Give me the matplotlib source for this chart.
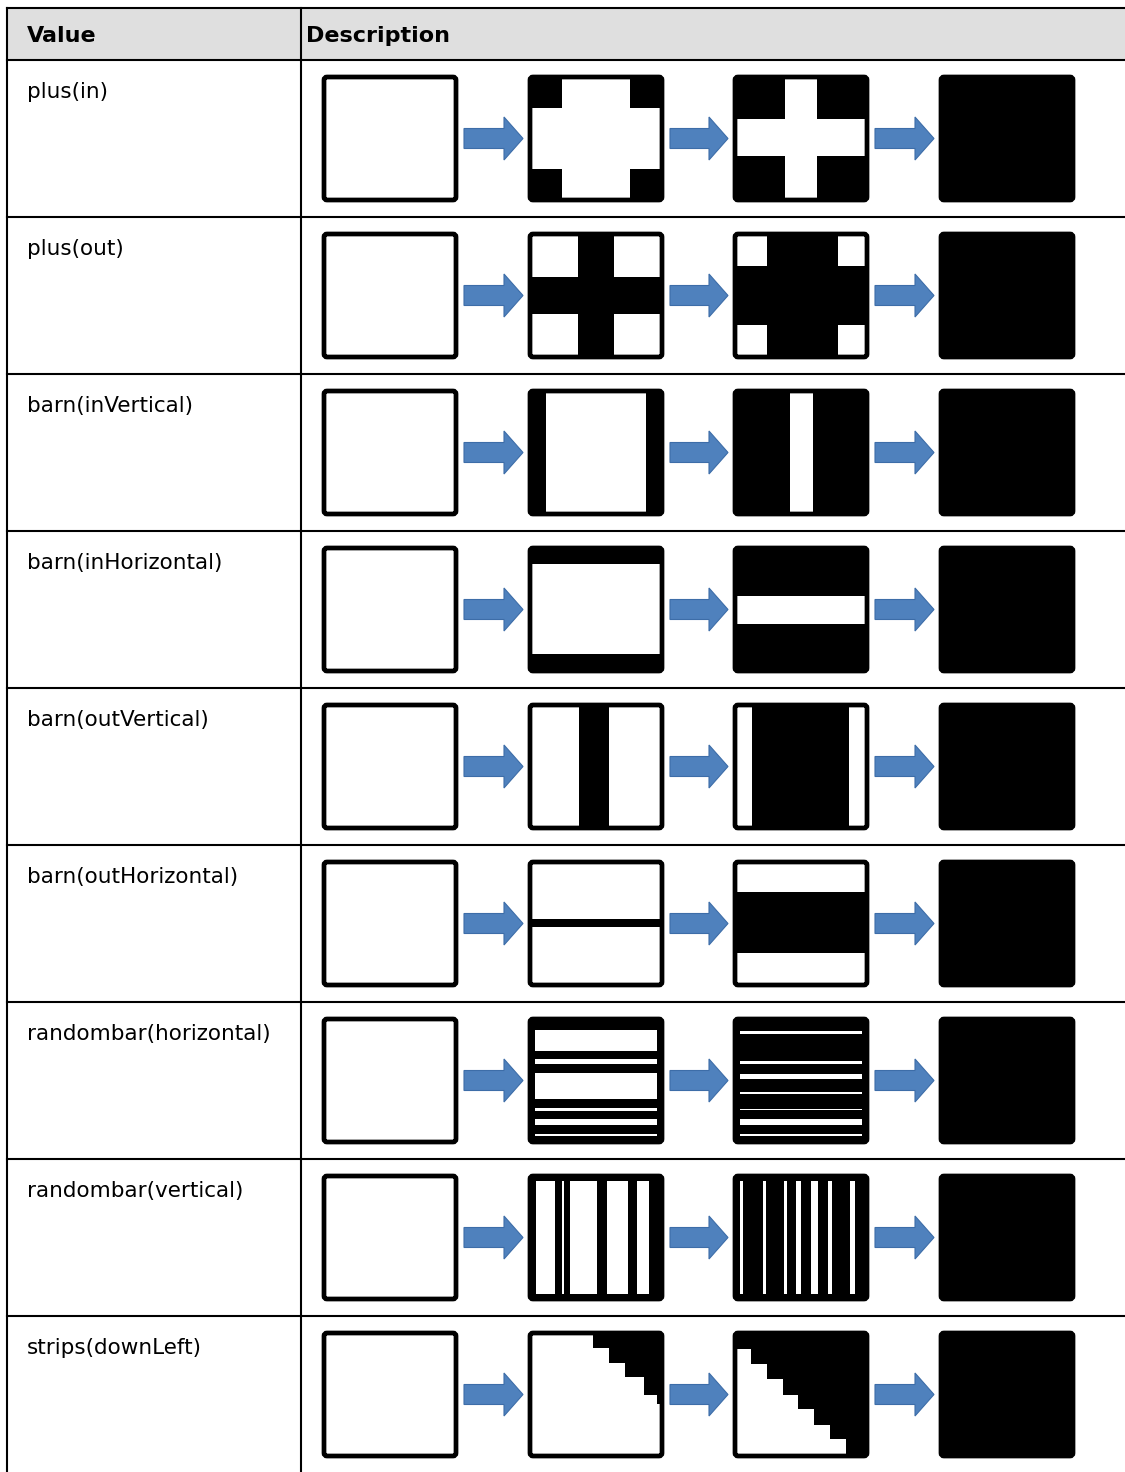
import matplotlib
matplotlib.use("Agg")
import matplotlib.pyplot as plt
from matplotlib.patches import Rectangle, FancyBboxPatch, Polygon

# table content
headers = ["Value", "Description"]
values = ["plus(in)", "plus(out)", "barn(inVertical)", "barn(inHorizontal)",
          "barn(outVertical)", "barn(outHorizontal)", "randombar(horizontal)",
          "randombar(vertical)", "strips(downLeft)"]

# intermediate frames of each transition: (background, inner rects)
# rects are (x0, x1, top0, top1) as fractions of the box, measured from top-left
plus_in = [("w", [(0, .24, 0, .25), (.76, 1, 0, .25), (0, .24, .75, 1), (.76, 1, .75, 1)]),
           ("k", [(.38, .62, 0, 1), (0, 1, .34, .64)])]
plus_out = [("w", [(.36, .64, 0, 1), (0, 1, .35, .65)]),
            ("k", [(0, .24, 0, .26), (.78, 1, 0, .26), (0, .24, .74, 1), (.78, 1, .74, 1)])]
barn_in_v = [("w", [(0, .12, 0, 1), (.88, 1, 0, 1)]),
             ("k", [(.42, .59, 0, 1)])]
barn_in_h = [("w", [(0, 1, 0, .13), (0, 1, .86, 1)]),
             ("k", [(0, 1, .39, .62)])]
barn_out_v = [("w", [(.37, .6, 0, 1)]),
              ("k", [(0, .13, 0, 1), (.86, 1, 0, 1)])]
barn_out_h = [("w", [(0, 1, .46, .53)]),
              ("k", [(0, 1, 0, .24), (0, 1, .74, 1)])]

rbh_2 = [(.086, .257), (.324, .365), (.438, .649), (.724, .751), (.816, .865), (.932, .951)]
rbh_3 = [(.095, .122), (.338, .365), (.446, .486), (.595, .608), (.728, .743), (.816, .865), (.932, .951)]
rbv_2 = [(.043, .188), (.241, .261), (.304, .507), (.58, .739), (.812, .899)]
rbv_3 = [(.038, .059), (.21, .233), (.368, .397), (.465, .5), (.574, .632), (.706, .738), (.872, .912)]
randbar_h = [("k", [(.04, .96, a, b) for a, b in rbh_2]),
             ("k", [(.04, .96, a, b) for a, b in rbh_3])]
randbar_v = [("k", [(a, b, .04, .96) for a, b in rbv_2]),
             ("k", [(a, b, .04, .96) for a, b in rbv_3])]

stair_x2 = [.48, .6, .72, .86, .96]
stair_y2 = [.12, .24, .36, .5, .58]
stair_x3 = [.12, .24, .36, .48, .6, .72, .84]
stair_y3 = [.13, .25, .37, .5, .62, .75, .86]
strips = [("w", [(x, 1, 0, y) for x, y in zip(stair_x2, stair_y2)]),
          ("k", [(0, x, y, 1) for x, y in zip(stair_x3, stair_y3)])]

frames = [plus_in, plus_out, barn_in_v, barn_in_h, barn_out_v, barn_out_h,
          randbar_h, randbar_v, strips]

W, H = 1125, 1472
fig = plt.figure(figsize=(W / 100, H / 100), dpi=100)
ax = fig.add_axes([0, 0, 1, 1])
ax.set_xlim(0, W)
ax.set_ylim(H, 0)
ax.axis("off")

left, top, head_bot, divider = 7, 8, 60, 301
row_h = 157
line_kw = dict(color="black", lw=1.5)

# header
ax.add_patch(Rectangle((left, top), W - left, head_bot - top, fc="#dfdfdf", ec="none"))
ax.text(27, 42, headers[0], fontsize=16, fontweight="bold", va="baseline")
ax.text(divider + 5, 42, headers[1], fontsize=16, fontweight="bold", va="baseline")

ax.plot([left, W], [top, top], **line_kw)
ax.plot([left, W], [head_bot, head_bot], **line_kw)
ax.plot([left, left], [top, H], **line_kw)
ax.plot([divider, divider], [top, H], **line_kw)

box_x = [324, 530, 735, 941]
box_w, box_h = 132, 123
arrow_col = "#4f81bd"


def draw_box(x, y, bg, rects):
    fg = "k" if bg == "w" else "w"
    ax.add_patch(Rectangle((x, y), box_w, box_h, fc=bg, ec="none"))
    for x0, x1, t0, t1 in rects:
        ax.add_patch(Rectangle((x + x0 * box_w, y + t0 * box_h),
                               (x1 - x0) * box_w, (t1 - t0) * box_h, fc=fg, ec="none"))
    ax.add_patch(FancyBboxPatch((x, y), box_w, box_h, boxstyle="round,pad=0,rounding_size=3",
                                fc="none", ec="black", lw=3.4))


def draw_arrow(x0, x1, yc):
    body, head, head_len = 10, 21.5, 19
    pts = [(x0, yc - body), (x1 - head_len, yc - body), (x1 - head_len, yc - head),
           (x1, yc), (x1 - head_len, yc + head), (x1 - head_len, yc + body), (x0, yc + body)]
    ax.add_patch(Polygon(pts, closed=True, fc=arrow_col, ec="#3d6da8", lw=0.8))


for i, (name, fr) in enumerate(zip(values, frames)):
    rt = head_bot + i * row_h
    if i < len(values) - 1:
        ax.plot([left, W], [rt + row_h, rt + row_h], **line_kw)
    ax.text(27, rt + 38, name, fontsize=15.5, va="baseline")
    by = rt + 17
    stages = [("w", [])] + fr + [("k", [])]
    for j, (bg, rects) in enumerate(stages):
        draw_box(box_x[j], by, bg, rects)
        if j < 3:
            draw_arrow(box_x[j] + box_w + 8, box_x[j + 1] - 7, by + box_h / 2)

fig.savefig("out.png", dpi=100)
